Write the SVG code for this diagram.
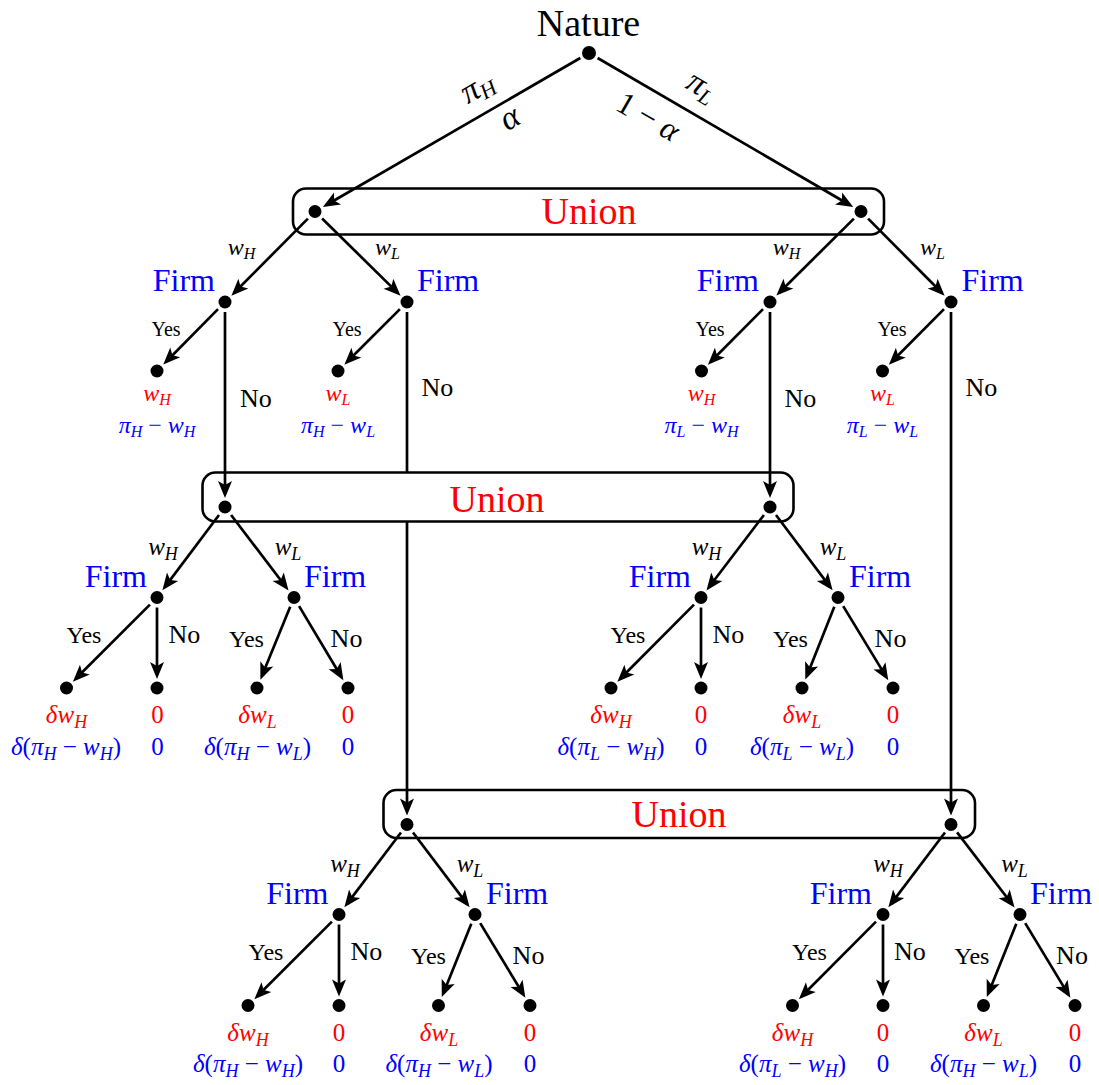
<svg xmlns="http://www.w3.org/2000/svg" width="1099" height="1085" viewBox="0 0 1099 1085">
<style>
text{font-family:"Liberation Serif","Times New Roman",serif;fill:#000}
.big{font-size:38px}
.firm{font-size:32px;fill:#0000ff}
.union{font-size:38px;fill:#ff0000}
.yes2{font-size:20px}
.no2{font-size:26px}
.yes{font-size:24px}
.no{font-size:26px}
.m{font-style:italic}
.r{fill:#ff0000}
.b{fill:#0000ff}
.p2{font-size:24px;font-style:italic}
.p{font-size:25px;font-style:italic}
.s2{font-size:16px}
.s{font-size:18px}
.up{font-style:normal}
.g1{font-size:34px;font-style:italic}
.g1s{font-size:22px}
.edge{stroke:#000;stroke-width:2.7;fill:none;marker-end:url(#ah)}
.box{fill:none;stroke:#000;stroke-width:2.6}
.dot{fill:#000}
.mid{text-anchor:middle}
.end{text-anchor:end}
</style>
<defs>
<marker id="ah" markerWidth="20" markerHeight="20" refX="0" refY="0" orient="auto" markerUnits="userSpaceOnUse" overflow="visible" style="overflow:visible">
<path d="M4,0 L-13,-7 L-9,0 L-13,7 Z" fill="#000"/>
</marker>
</defs>

<g id="infosets">
<g id="union1"><rect class="box" x="293" y="188.5" width="591" height="46" rx="13"/><text class="union mid" x="589" y="223.5">Union</text></g>
<g id="union2"><rect class="box" x="202.5" y="472.5" width="591" height="49" rx="13"/><text class="union mid" x="497" y="511.5">Union</text></g>
<g id="union3"><rect class="box" x="383.5" y="790" width="591.5" height="48" rx="13"/><text class="union mid" x="679" y="826.5">Union</text></g>
</g>

<g id="connectors">
<path class="edge" d="M580.3,58 L326.3,205"/>
<path class="edge" d="M597.6,58 L849.8,205"/>
<path class="edge" d="M307.9,218.6 L234.2,292.8"/>
<path class="edge" d="M322.1,218.5 L397.7,292.9"/>
<path class="edge" d="M853.9,218.6 L779.2,292.8"/>
<path class="edge" d="M868.1,218.6 L941.8,292.8"/>
<path class="edge" d="M218,309.1 L166.1,361.7"/>
<path class="edge" d="M399.9,309.1 L347.2,361.8"/>
<path class="edge" d="M763,309.1 L710.7,361.8"/>
<path class="edge" d="M944,309.1 L891.7,361.8"/>
<path class="edge" d="M225,312 L225,494"/>
<path class="edge" d="M407,312 L407,472.5 M407,521.5 L407,811.5"/>
<path class="edge" d="M770,312 L770,494"/>
<path class="edge" d="M951,312 L951,811.5"/>
<path class="edge" d="M219,515 L164.8,587.1"/>
<path class="edge" d="M231.1,515 L286.1,587.2"/>
<path class="edge" d="M763.9,515 L708.9,587.2"/>
<path class="edge" d="M776,515 L830.2,587.1"/>
<path class="edge" d="M149.9,604.6 L75.7,678.8"/>
<path class="edge" d="M157,607.5 L157,675"/>
<path class="edge" d="M290.2,606.8 L261.9,676"/>
<path class="edge" d="M299.1,606.1 L341.3,676.8"/>
<path class="edge" d="M694,604.6 L620.2,678.8"/>
<path class="edge" d="M701,607.5 L701,675"/>
<path class="edge" d="M834.3,606.8 L806.8,675.9"/>
<path class="edge" d="M843.2,606.1 L886.2,676.9"/>
<path class="edge" d="M401,832.5 L346.8,904.1"/>
<path class="edge" d="M413,832.5 L467.2,904.1"/>
<path class="edge" d="M945,832.5 L890.8,904.1"/>
<path class="edge" d="M957.1,832.4 L1012.1,904.2"/>
<path class="edge" d="M331.9,921.6 L257.2,996.3"/>
<path class="edge" d="M339,924.5 L339,992.5"/>
<path class="edge" d="M471.3,923.8 L443.3,993.4"/>
<path class="edge" d="M480.2,923.1 L523.3,994.4"/>
<path class="edge" d="M876,921.6 L801.7,996.3"/>
<path class="edge" d="M883,924.5 L883,992.5"/>
<path class="edge" d="M1016.3,923.8 L988.3,993.4"/>
<path class="edge" d="M1025.2,923.1 L1068.3,994.4"/>
</g>

<g id="edge-labels">
<g transform="translate(478,89) rotate(-30)"><text class="g1 mid" y="8">π<tspan class="g1s" dy="5">H</tspan></text></g>
<g transform="translate(511,120) rotate(-30)"><text class="g1 mid" y="8">α</text></g>
<g transform="translate(648,117) rotate(30)"><text class="mid" style="font-size:32px" y="10">1 − <tspan class="m">α</tspan></text></g>
<g transform="translate(701,88) rotate(30)"><text class="g1 mid" y="8">π<tspan class="g1s" dy="5">L</tspan></text></g>

<text class="p2 mid" x="241.5" y="255">w<tspan class="s2" dy="4">H</tspan></text>
<text class="p2 mid" x="387.5" y="255">w<tspan class="s2" dy="4">L</tspan></text>
<text class="p2 mid" x="786.5" y="255">w<tspan class="s2" dy="4">H</tspan></text>
<text class="p2 mid" x="932.5" y="255">w<tspan class="s2" dy="4">L</tspan></text>

<text class="yes2 mid" x="166" y="336">Yes</text>
<text class="yes2 mid" x="347" y="336">Yes</text>
<text class="yes2 mid" x="710" y="336">Yes</text>
<text class="yes2 mid" x="892" y="336">Yes</text>
<text class="no2" x="240" y="406.5">No</text>
<text class="no2" x="421.5" y="396">No</text>
<text class="no2" x="784.5" y="406.5">No</text>
<text class="no2" x="965.5" y="396">No</text>

<text class="p mid" x="163" y="555">w<tspan class="s" dy="5">H</tspan></text>
<text class="p mid" x="288" y="555">w<tspan class="s" dy="5">L</tspan></text>
<text class="p mid" x="706.5" y="555">w<tspan class="s" dy="5">H</tspan></text>
<text class="p mid" x="833" y="555">w<tspan class="s" dy="5">L</tspan></text>
<text class="p mid" x="345" y="872">w<tspan class="s" dy="5">H</tspan></text>
<text class="p mid" x="470" y="872">w<tspan class="s" dy="5">L</tspan></text>
<text class="p mid" x="888" y="872">w<tspan class="s" dy="5">H</tspan></text>
<text class="p mid" x="1014.5" y="872">w<tspan class="s" dy="5">L</tspan></text>

<text class="yes mid" x="84" y="643">Yes</text>
<text class="no" x="168.5" y="643">No</text>
<text class="yes mid" x="246.5" y="646.5">Yes</text>
<text class="no mid" x="346.5" y="646.5">No</text>
<text class="yes mid" x="628" y="643">Yes</text>
<text class="no" x="712.5" y="643">No</text>
<text class="yes mid" x="790.5" y="646.5">Yes</text>
<text class="no mid" x="890.5" y="646.5">No</text>

<text class="yes mid" x="266" y="960">Yes</text>
<text class="no" x="350.5" y="960">No</text>
<text class="yes mid" x="428.5" y="963.5">Yes</text>
<text class="no mid" x="528.5" y="963.5">No</text>
<text class="yes mid" x="809.5" y="960">Yes</text>
<text class="no" x="894" y="960">No</text>
<text class="yes mid" x="972" y="963.5">Yes</text>
<text class="no mid" x="1072" y="963.5">No</text>
</g>

<g id="nature"><circle class="dot" cx="589" cy="53" r="7"/><text class="big mid" x="588.5" y="36">Nature</text></g>

<g id="union1-H"><circle class="dot" cx="315" cy="211.5" r="6.5"/></g>
<g id="union1-L"><circle class="dot" cx="861" cy="211.5" r="6.5"/></g>

<g id="firm-HH"><circle class="dot" cx="225" cy="302" r="6.5"/><text class="firm end" x="215" y="291">Firm</text></g>
<g id="firm-HL"><circle class="dot" cx="407" cy="302" r="6.5"/><text class="firm" x="417" y="291">Firm</text></g>
<g id="firm-LH"><circle class="dot" cx="770" cy="302" r="6.5"/><text class="firm end" x="759" y="291">Firm</text></g>
<g id="firm-LL"><circle class="dot" cx="951" cy="302" r="6.5"/><text class="firm" x="961.5" y="291">Firm</text></g>

<g id="leaf-HH-yes"><circle class="dot" cx="157" cy="371" r="6.5"/>
<text class="p2 r mid" x="157" y="401">w<tspan class="s2" dy="4">H</tspan></text>
<text class="p2 b mid" x="157" y="433">π<tspan class="s2" dy="4">H</tspan><tspan class="up" dy="-4"> − </tspan>w<tspan class="s2" dy="4">H</tspan></text></g>
<g id="leaf-HL-yes"><circle class="dot" cx="338" cy="371" r="6.5"/>
<text class="p2 r mid" x="338" y="401">w<tspan class="s2" dy="4">L</tspan></text>
<text class="p2 b mid" x="338" y="433">π<tspan class="s2" dy="4">H</tspan><tspan class="up" dy="-4"> − </tspan>w<tspan class="s2" dy="4">L</tspan></text></g>
<g id="leaf-LH-yes"><circle class="dot" cx="701.5" cy="371" r="6.5"/>
<text class="p2 r mid" x="701.5" y="401">w<tspan class="s2" dy="4">H</tspan></text>
<text class="p2 b mid" x="701.5" y="433">π<tspan class="s2" dy="4">L</tspan><tspan class="up" dy="-4"> − </tspan>w<tspan class="s2" dy="4">H</tspan></text></g>
<g id="leaf-LL-yes"><circle class="dot" cx="882.5" cy="371" r="6.5"/>
<text class="p2 r mid" x="882.5" y="401">w<tspan class="s2" dy="4">L</tspan></text>
<text class="p2 b mid" x="882.5" y="433">π<tspan class="s2" dy="4">L</tspan><tspan class="up" dy="-4"> − </tspan>w<tspan class="s2" dy="4">L</tspan></text></g>

<g id="union2-H"><circle class="dot" cx="225" cy="507" r="6.5"/></g>
<g id="union2-L"><circle class="dot" cx="770" cy="507" r="6.5"/></g>

<g id="firm2-HH"><circle class="dot" cx="157" cy="597.5" r="6.5"/><text class="firm end" x="147" y="587">Firm</text></g>
<g id="firm2-HL"><circle class="dot" cx="294" cy="597.5" r="6.5"/><text class="firm" x="304" y="587">Firm</text></g>
<g id="firm2-LH"><circle class="dot" cx="701" cy="597.5" r="6.5"/><text class="firm end" x="691" y="587">Firm</text></g>
<g id="firm2-LL"><circle class="dot" cx="838" cy="597.5" r="6.5"/><text class="firm" x="849" y="587">Firm</text></g>

<g id="leaf2-HH-yes"><circle class="dot" cx="66.5" cy="688" r="6.5"/>
<text class="p r mid" x="66.5" y="723">δw<tspan class="s" dy="5">H</tspan></text>
<text class="p b mid" x="66" y="755">δ<tspan class="up">(</tspan>π<tspan class="s" dy="5">H</tspan><tspan class="up" dy="-5"> − </tspan>w<tspan class="s" dy="5">H</tspan><tspan class="up" dy="-5">)</tspan></text></g>
<g id="leaf2-HH-no"><circle class="dot" cx="157" cy="688" r="6.5"/>
<text class="p r mid up" x="157.5" y="723">0</text><text class="p b mid up" x="157.5" y="755">0</text></g>
<g id="leaf2-HL-yes"><circle class="dot" cx="257" cy="688" r="6.5"/>
<text class="p r mid" x="257.5" y="723">δw<tspan class="s" dy="5">L</tspan></text>
<text class="p b mid" x="257.5" y="755">δ<tspan class="up">(</tspan>π<tspan class="s" dy="5">H</tspan><tspan class="up" dy="-5"> − </tspan>w<tspan class="s" dy="5">L</tspan><tspan class="up" dy="-5">)</tspan></text></g>
<g id="leaf2-HL-no"><circle class="dot" cx="348" cy="688" r="6.5"/>
<text class="p r mid up" x="348" y="723">0</text><text class="p b mid up" x="348" y="755">0</text></g>
<g id="leaf2-LH-yes"><circle class="dot" cx="611" cy="688" r="6.5"/>
<text class="p r mid" x="611" y="723">δw<tspan class="s" dy="5">H</tspan></text>
<text class="p b mid" x="611" y="755">δ<tspan class="up">(</tspan>π<tspan class="s" dy="5">L</tspan><tspan class="up" dy="-5"> − </tspan>w<tspan class="s" dy="5">H</tspan><tspan class="up" dy="-5">)</tspan></text></g>
<g id="leaf2-LH-no"><circle class="dot" cx="701" cy="688" r="6.5"/>
<text class="p r mid up" x="701" y="723">0</text><text class="p b mid up" x="701" y="755">0</text></g>
<g id="leaf2-LL-yes"><circle class="dot" cx="802" cy="688" r="6.5"/>
<text class="p r mid" x="802" y="723">δw<tspan class="s" dy="5">L</tspan></text>
<text class="p b mid" x="802" y="755">δ<tspan class="up">(</tspan>π<tspan class="s" dy="5">L</tspan><tspan class="up" dy="-5"> − </tspan>w<tspan class="s" dy="5">L</tspan><tspan class="up" dy="-5">)</tspan></text></g>
<g id="leaf2-LL-no"><circle class="dot" cx="893" cy="688" r="6.5"/>
<text class="p r mid up" x="893" y="723">0</text><text class="p b mid up" x="893" y="755">0</text></g>

<g id="union3-H"><circle class="dot" cx="407" cy="824.5" r="6.5"/></g>
<g id="union3-L"><circle class="dot" cx="951" cy="824.5" r="6.5"/></g>

<g id="firm3-HH"><circle class="dot" cx="339" cy="914.5" r="6.5"/><text class="firm end" x="328.5" y="904">Firm</text></g>
<g id="firm3-HL"><circle class="dot" cx="475" cy="914.5" r="6.5"/><text class="firm" x="486" y="904">Firm</text></g>
<g id="firm3-LH"><circle class="dot" cx="883" cy="914.5" r="6.5"/><text class="firm end" x="872" y="904">Firm</text></g>
<g id="firm3-LL"><circle class="dot" cx="1020" cy="914.5" r="6.5"/><text class="firm" x="1030" y="904">Firm</text></g>

<g id="leaf3-HH-yes"><circle class="dot" cx="248" cy="1005.5" r="6.5"/>
<text class="p r mid" x="248" y="1041">δw<tspan class="s" dy="5">H</tspan></text>
<text class="p b mid" x="248" y="1072">δ<tspan class="up">(</tspan>π<tspan class="s" dy="5">H</tspan><tspan class="up" dy="-5"> − </tspan>w<tspan class="s" dy="5">H</tspan><tspan class="up" dy="-5">)</tspan></text></g>
<g id="leaf3-HH-no"><circle class="dot" cx="339" cy="1005.5" r="6.5"/>
<text class="p r mid up" x="339" y="1041">0</text><text class="p b mid up" x="339" y="1072">0</text></g>
<g id="leaf3-HL-yes"><circle class="dot" cx="438.5" cy="1005.5" r="6.5"/>
<text class="p r mid" x="439" y="1041">δw<tspan class="s" dy="5">L</tspan></text>
<text class="p b mid" x="439" y="1072">δ<tspan class="up">(</tspan>π<tspan class="s" dy="5">H</tspan><tspan class="up" dy="-5"> − </tspan>w<tspan class="s" dy="5">L</tspan><tspan class="up" dy="-5">)</tspan></text></g>
<g id="leaf3-HL-no"><circle class="dot" cx="530" cy="1005.5" r="6.5"/>
<text class="p r mid up" x="530" y="1041">0</text><text class="p b mid up" x="530" y="1072">0</text></g>
<g id="leaf3-LH-yes"><circle class="dot" cx="792.5" cy="1005.5" r="6.5"/>
<text class="p r mid" x="792.5" y="1041">δw<tspan class="s" dy="5">H</tspan></text>
<text class="p b mid" x="792.5" y="1072">δ<tspan class="up">(</tspan>π<tspan class="s" dy="5">L</tspan><tspan class="up" dy="-5"> − </tspan>w<tspan class="s" dy="5">H</tspan><tspan class="up" dy="-5">)</tspan></text></g>
<g id="leaf3-LH-no"><circle class="dot" cx="883" cy="1005.5" r="6.5"/>
<text class="p r mid up" x="883" y="1041">0</text><text class="p b mid up" x="883" y="1072">0</text></g>
<g id="leaf3-LL-yes"><circle class="dot" cx="983.5" cy="1005.5" r="6.5"/>
<text class="p r mid" x="983.5" y="1041">δw<tspan class="s" dy="5">L</tspan></text>
<text class="p b mid" x="983.5" y="1072">δ<tspan class="up">(</tspan>π<tspan class="s" dy="5">H</tspan><tspan class="up" dy="-5"> − </tspan>w<tspan class="s" dy="5">L</tspan><tspan class="up" dy="-5">)</tspan></text></g>
<g id="leaf3-LL-no"><circle class="dot" cx="1075" cy="1005.5" r="6.5"/>
<text class="p r mid up" x="1075" y="1041">0</text><text class="p b mid up" x="1075" y="1072">0</text></g>
</svg>
